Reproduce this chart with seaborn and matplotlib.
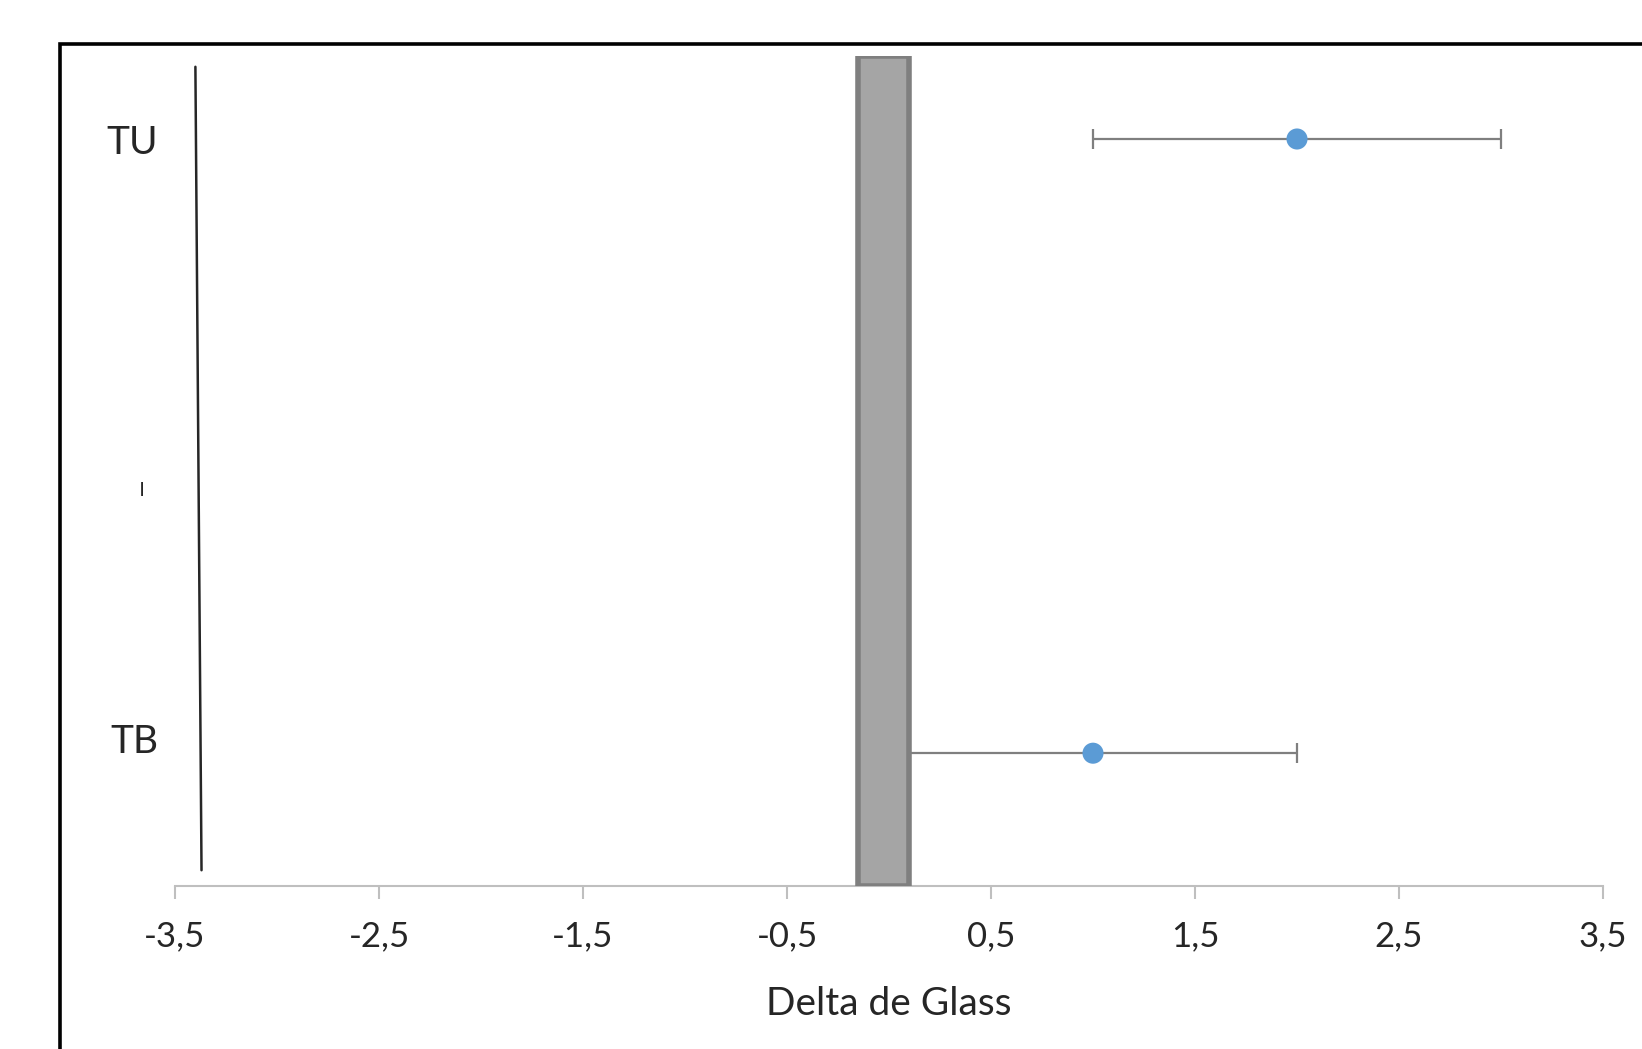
import seaborn as sns
import pandas as pd
import numpy as np
from matplotlib import pyplot as plt
from matplotlib.patches import Rectangle

# data
grupos = ['TU', 'TB']
delta = [2.0, 1.0]
ic_lo = [1.0, 0.0]
ic_hi = [3.0, 2.0]
y_pos = [0.9, 0.16]

ytick_pos = [0.9, 0.48, 0.178]
ytick_lab = ['TU', '|    ', 'TB']
xticks = [-3.5, -2.5, -1.5, -0.5, 0.5, 1.5, 2.5, 3.5]

# grey zero band and the stray line at the left
banda_lo, banda_hi = -0.15, 0.1
banda_alto = 1.0
linea_x = [-3.40, -3.37]
linea_y = [0.987, 0.019]

sns.set_style('white')
plt.rcParams['font.family'] = ['Lato', 'DejaVu Sans']

df = pd.DataFrame({'grupo': grupos, 'delta': delta, 'y': y_pos,
                   'lo': ic_lo, 'hi': ic_hi})

fig = plt.figure(figsize=(16.42, 10.49), dpi=100)
ax = fig.add_axes([175/1642, 1 - 886/1049, 1428/1642, 830/1049])

# error bars
ax.errorbar(df['delta'], df['y'],
            xerr=[df['delta'] - df['lo'], df['hi'] - df['delta']],
            fmt='none', ecolor='#7f7f7f', elinewidth=1.6, capsize=7,
            capthick=1.6, zorder=2)

# band around zero, drawn over the start of the TB bar
ax.bar(x=(banda_lo + banda_hi) / 2, height=banda_alto, width=banda_hi - banda_lo,
       bottom=0, color='#a5a5a5', edgecolor='#7f7f7f', linewidth=4, zorder=3)

sns.scatterplot(data=df, x='delta', y='y', ax=ax, color='#5b9bd5', s=230,
                edgecolor='none', zorder=4, legend=False)

ax.plot(linea_x, linea_y, color='#262626', lw=1.8, zorder=2)

ax.set_xlim(-3.5, 3.5)
ax.set_ylim(0, 1)
ax.set_xticks(xticks)
ax.set_xticklabels([str(t).replace('.', ',') for t in xticks], fontsize=25)
ax.set_yticks(ytick_pos)
ax.set_yticklabels(ytick_lab, fontsize=28)
mid = ax.get_yticklabels()[1]
mid.set_fontsize(11)
mid.set_fontweight('heavy')
mid.set_color('#595959')
ax.tick_params(axis='x', length=9, width=1.5, color='#bfbfbf', pad=16,
               bottom=True, labelcolor='#262626')
ax.tick_params(axis='y', length=0, pad=12, labelcolor='#262626')
ax.set_xlabel('Delta de Glass', fontsize=28, color='#262626', labelpad=24)
ax.set_ylabel('')

for s in ['top', 'right', 'left']:
    ax.spines[s].set_visible(False)
ax.spines['bottom'].set_color('#bfbfbf')
ax.spines['bottom'].set_linewidth(1.5)

# chart border, cut off at right and bottom
fig.patches.append(Rectangle((60/1642, -0.2), 1.5, 1.2 - 44/1049,
                             transform=fig.transFigure, fill=False,
                             edgecolor='black', linewidth=2.6))

fig.savefig('out.png', dpi=100)
